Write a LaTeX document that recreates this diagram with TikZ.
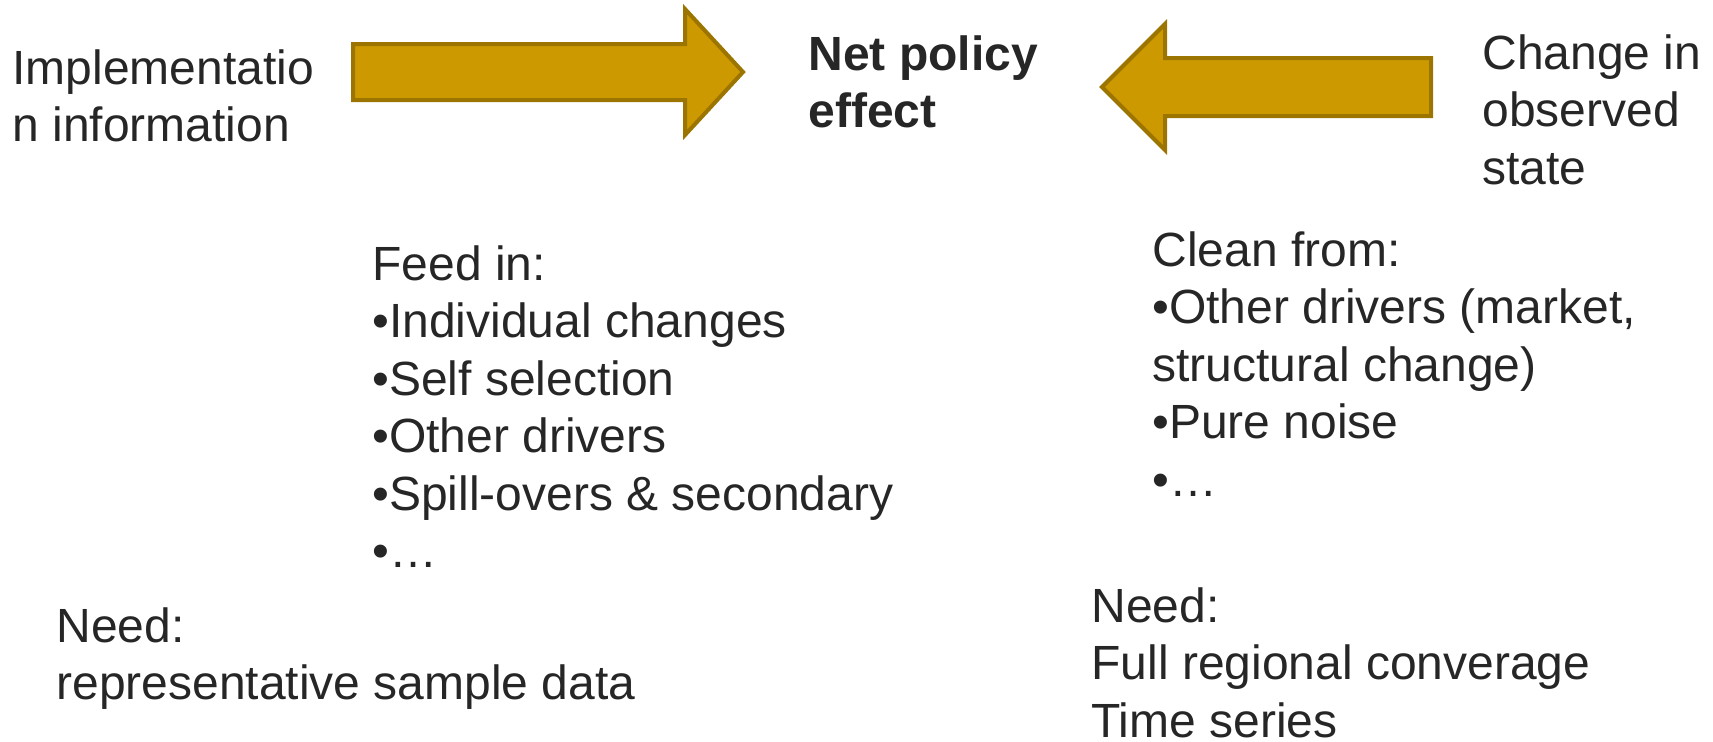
\documentclass[tikz,border=0pt]{standalone}
\usepackage{fontspec}
\setmainfont{Liberation Sans}
\definecolor{arrowfill}{HTML}{CC9900}
\definecolor{arrowline}{HTML}{9C7400}
\definecolor{txt}{HTML}{262626}

\begin{document}
\begin{tikzpicture}[x=0.5pt,y=-0.5pt,
		blockarrow/.style={fill=arrowfill, draw=arrowline, line width=2pt, line join=miter},
		txtbox/.style={anchor=north west, inner sep=0pt, align=left, text=txt, font=\fontsize{24}{28.75}\selectfont},
		boldbox/.style={txtbox, font=\fontsize{24}{28.75}\selectfont\bfseries}]
		\useasboundingbox (0,0) rectangle (1713,741);
		% the two block arrows
		\draw[blockarrow] (353,44) -- (685,44) -- (685,9) -- (743,72) -- (685,135) -- (685,100) -- (353,100) -- cycle;
		\draw[blockarrow] (1431,58) -- (1165,58) -- (1165,24) -- (1102,87) -- (1165,150) -- (1165,116) -- (1431,116) -- cycle;
		% top row
		\node[txtbox] (impl) at (12,49) {Implementatio\\n information};
		\node[boldbox] (net) at (808,35) {Net policy\\effect};
		\node[txtbox] (change) at (1482,34) {Change in\\observed\\state};
		% lists
		\node[txtbox] (feed) at (372,245) {Feed in:\\•Individual changes\\•Self selection\\•Other drivers\\•Spill-overs \& secondary\\•…};
		\node[txtbox] (clean) at (1152,231) {Clean from:\\•Other drivers (market,\\structural change)\\•Pure noise\\•…};
		% needs
		\node[txtbox] (needl) at (56,607) {Need:\\representative sample data};
		\node[txtbox] (needr) at (1091,587) {Need:\\Full regional converage\\Time series};
	\end{tikzpicture}
\end{document}
